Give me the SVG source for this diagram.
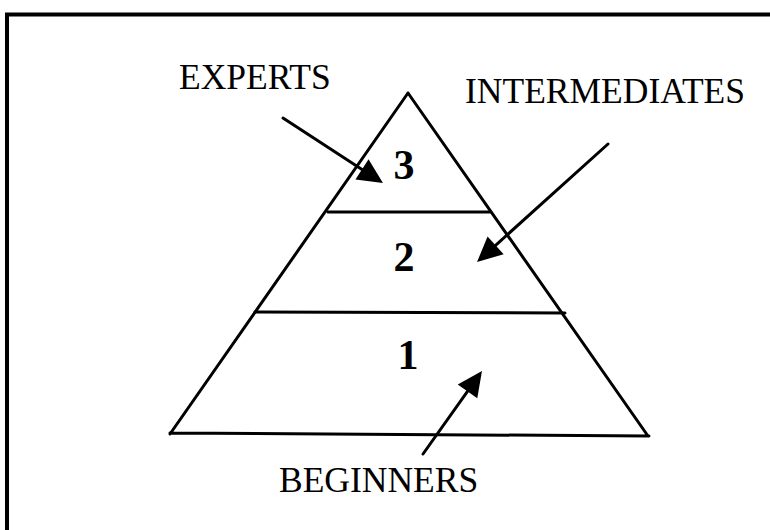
<svg xmlns="http://www.w3.org/2000/svg" width="770" height="530" viewBox="0 0 770 530">
<style>
.ln{stroke:#000;stroke-width:3;fill:none;stroke-linecap:round}
.lbl{font-family:"Liberation Serif","Times New Roman",serif;font-size:35.5px;fill:#000}
.num{font-family:"Liberation Serif","Times New Roman",serif;font-size:42px;font-weight:bold;fill:#000;text-anchor:middle}
</style>
<defs>
<marker id="ah" markerUnits="userSpaceOnUse" viewBox="0 -12 25 24" markerWidth="25" markerHeight="24" refX="0" refY="0" orient="auto" overflow="visible">
<path d="M0,-12 L25,0 L0,12 z" fill="#000"/>
</marker>
</defs>
<rect width="770" height="530" fill="#fff"/>
<path d="M7,540 V14.5 H780" stroke="#000" stroke-width="4" fill="none"/>
<g id="pyramid">
<path class="ln" d="M408,93 L170,434 M408,93 L648,436 M170,433 L649,436"/>
</g>
<g id="level3"><path class="ln" d="M328,212 L490,212"/><text class="num" x="404" y="179">3</text></g>
<g id="level2"><path class="ln" d="M255,312 L565,313"/><text class="num" x="404" y="271">2</text></g>
<g id="level1"><text class="num" x="408" y="369">1</text></g>
<g id="experts"><text class="lbl" x="179" y="89">EXPERTS</text></g>
<g id="intermediates"><text class="lbl" x="465" y="103">INTERMEDIATES</text></g>
<g id="beginners"><text class="lbl" x="279" y="492">BEGINNERS</text></g>
<g id="connectors">
<line class="ln" x1="283" y1="118" x2="362" y2="169.4" marker-end="url(#ah)"/>
<line class="ln" x1="608" y1="144" x2="495.6" y2="245.3" marker-end="url(#ah)"/>
<line class="ln" x1="423" y1="454" x2="467.5" y2="391.4" marker-end="url(#ah)"/>
</g>
</svg>
